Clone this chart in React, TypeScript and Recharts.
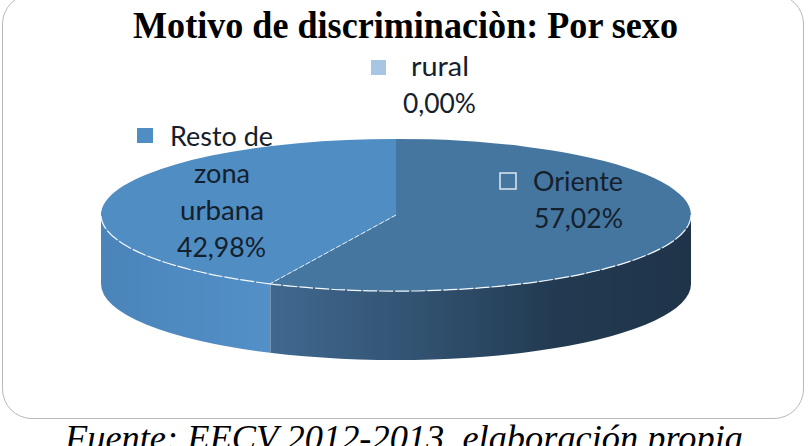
import React from 'react';
import { PieChart, Pie, Cell } from 'recharts';

const categories = ['Oriente', 'rural', 'Resto de zona urbana'];
const shares = [57.02, 0, 42.98];
const topColors = ['#44769f', '#a8c5e3', '#508dc3'];
const wallFills = ['url(#wallOriente)', 'none', 'url(#wallResto)'];

const chartData = categories.map((name, i) => ({ name, value: shares[i] }));

const CX = 396;
const CY = 215;
const RX = 295;
const TILT = 0.258;
const DEPTH = 69;

const rad = (deg: number) => (deg * Math.PI) / 180;
const px = (p: any, a: number) => p.cx + p.outerRadius * Math.cos(rad(a));
const py = (p: any, a: number) => p.cy - p.outerRadius * TILT * Math.sin(rad(a));

function arcPath(p: any, from: number, to: number, dy = 0, sweep = 1) {
  const ry = p.outerRadius * TILT;
  const large = Math.abs(from - to) > 180 ? 1 : 0;
  return `A${p.outerRadius} ${ry} 0 ${large} ${sweep} ${px(p, to)} ${py(p, to) + dy}`;
}

// only the front half of the ellipse shows a wall (angles run clockwise from 90 down to -270)
function frontRange(p: any) {
  const hi = Math.min(p.startAngle, 0);
  const lo = Math.max(p.endAngle, -180);
  return hi > lo ? [hi, lo] : null;
}

function WallSlice(props: any) {
  const range = frontRange(props);
  if (!range) return null;
  const [hi, lo] = range;
  const d =
    `M${px(props, hi)} ${py(props, hi)}` +
    arcPath(props, hi, lo) +
    `L${px(props, lo)} ${py(props, lo) + DEPTH}` +
    arcPath(props, lo, hi, DEPTH, 0) +
    'Z';
  return (
    <g>
      <path d={d} fill={props.fill} />
      {lo > -180 && (
        <line
          x1={px(props, lo)}
          y1={py(props, lo)}
          x2={px(props, lo)}
          y2={py(props, lo) + DEPTH}
          stroke="#ffffff"
          strokeOpacity={0.5}
          strokeWidth={1}
        />
      )}
    </g>
  );
}

function TopSlice(props: any) {
  if (props.startAngle === props.endAngle) return null;
  const { startAngle: a1, endAngle: a2 } = props;
  const d =
    `M${props.cx} ${props.cy}L${px(props, a1)} ${py(props, a1)}` + arcPath(props, a1, a2) + 'Z';
  const range = frontRange(props);
  return (
    <g>
      <path d={d} fill={props.fill} />
      {range && (
        <path
          d={`M${px(props, range[0])} ${py(props, range[0])}` + arcPath(props, range[0], range[1])}
          fill="none"
          stroke="#f4f8fb"
          strokeWidth={1.2}
          strokeDasharray="14 2"
        />
      )}
      {a1 < 0 && (
        <line
          x1={props.cx}
          y1={props.cy}
          x2={px(props, a1)}
          y2={py(props, a1)}
          stroke="#e8f0f7"
          strokeWidth={1}
          strokeDasharray="5 2"
        />
      )}
    </g>
  );
}

function Line({ x, y, w, children }: any) {
  return (
    <text
      x={x}
      y={y}
      textLength={w}
      lengthAdjust="spacingAndGlyphs"
      fontFamily='Lato, "Open Sans", sans-serif'
      fontSize={27}
      fill="#14202c"
    >
      {children}
    </text>
  );
}

export default function App() {
  return (
    <div
      style={{
        position: 'absolute',
        left: 0,
        top: 0,
        width: 808,
        height: 446,
        overflow: 'hidden',
        background: '#ffffff',
      }}
    >
      <div
        style={{
          position: 'absolute',
          left: 2,
          top: -6,
          width: 800,
          height: 423,
          border: '1.5px solid #b9b9b9',
          borderRadius: 30,
        }}
      />
      <div style={{ position: 'absolute', left: 0, top: 0 }}>
        <PieChart width={808} height={446} margin={{ top: 0, right: 0, bottom: 0, left: 0 }}>
          <defs>
            <linearGradient id="wallOriente" x1="0" y1="0" x2="1" y2="0">
              <stop offset="0%" stopColor="#40688f" />
              <stop offset="30%" stopColor="#345676" />
              <stop offset="68%" stopColor="#223a51" />
              <stop offset="100%" stopColor="#1f3449" />
            </linearGradient>
            <linearGradient id="wallResto" x1="0" y1="0" x2="1" y2="0">
              <stop offset="0%" stopColor="#4a84b9" />
              <stop offset="100%" stopColor="#5390c8" />
            </linearGradient>
          </defs>
          <Pie
            data={chartData}
            dataKey="value"
            nameKey="name"
            cx={CX}
            cy={CY}
            outerRadius={RX}
            startAngle={90}
            endAngle={-270}
            stroke="none"
            shape={WallSlice}
            isAnimationActive={false}
          >
            {chartData.map((entry, i) => (
              <Cell key={`wall-${entry.name}`} fill={wallFills[i]} />
            ))}
          </Pie>
          <Pie
            data={chartData}
            dataKey="value"
            nameKey="name"
            cx={CX}
            cy={CY}
            outerRadius={RX}
            startAngle={90}
            endAngle={-270}
            stroke="none"
            shape={TopSlice}
            isAnimationActive={false}
          >
            {chartData.map((entry, i) => (
              <Cell key={`top-${entry.name}`} fill={topColors[i]} />
            ))}
          </Pie>
        </PieChart>
      </div>

      {/* title, data labels and source line sit above the pie layers */}
      <svg width={808} height={446} style={{ position: 'absolute', left: 0, top: 0 }}>
        <text
          x={133}
          y={38}
          textLength={545}
          lengthAdjust="spacingAndGlyphs"
          fontFamily='"Liberation Serif", serif'
          fontWeight="bold"
          fontSize={37}
          fill="#000000"
        >
          Motivo de discriminaciòn: Por sexo
        </text>

        <rect x={371} y={60} width={15} height={15} fill={topColors[1]} />
        <Line x={411} y={76} w={58}>rural</Line>
        <Line x={403} y={113} w={73}>0,00%</Line>

        <rect x={137} y={128} width={16} height={15} fill={topColors[2]} />
        <Line x={170} y={146} w={103}>Resto de</Line>
        <Line x={194} y={183} w={56}>zona</Line>
        <Line x={180} y={220} w={84}>urbana</Line>
        <Line x={177} y={257} w={89}>42,98%</Line>

        <rect x={500} y={173} width={16} height={16} fill={topColors[0]} stroke="#dfe9f2" strokeWidth={1.5} />
        <Line x={533} y={191} w={90}>Oriente</Line>
        <Line x={534} y={228} w={89}>57,02%</Line>

        <text
          x={65}
          y={450}
          textLength={678}
          lengthAdjust="spacingAndGlyphs"
          fontFamily='"Liberation Serif", serif'
          fontStyle="italic"
          fontSize={36}
          fill="#000000"
        >
          Fuente: EECV 2012-2013, elaboración propia
        </text>
      </svg>
    </div>
  );
}
